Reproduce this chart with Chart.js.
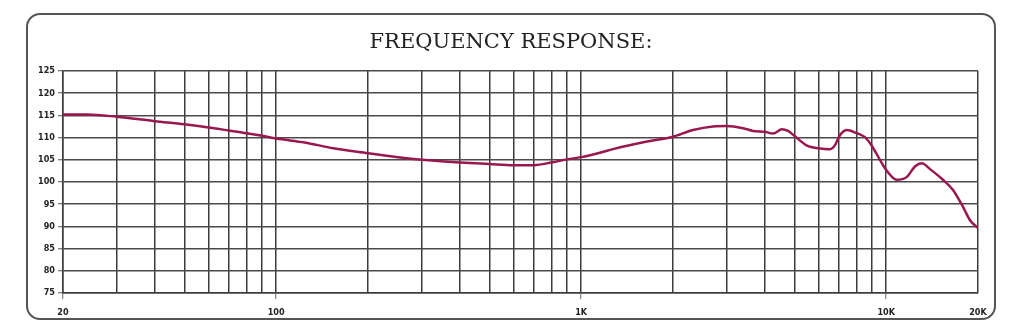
<!DOCTYPE html>
<html>
<head>
<meta charset="utf-8">
<script src="https://cdn.jsdelivr.net/npm/chart.js@4/dist/chart.umd.min.js"></script>
<style>
  html, body { margin: 0; padding: 0; background: #fff; }
  #wrap { position: relative; width: 1024px; height: 335px; }
  canvas { display: block; }
</style>
</head>
<body>
<div id="wrap"><canvas id="c" width="1024" height="335"></canvas></div>
<script>
// ---- data ----
const freqs = [20, 24, 30, 40, 50, 60, 70, 80, 90, 100, 124, 154, 200, 255, 300, 400, 500, 600, 700, 800, 900,
  1000, 1153, 1272, 1644, 2000, 2326, 2706, 3000, 3396, 3660, 4000, 4256, 4554, 4766, 5000, 5498, 6000, 6546,
  6796, 7000, 7420, 8000, 8520, 9000, 9540, 10000, 10820, 11670, 12430, 13080, 13920, 15350, 16560, 17860, 18830, 20000];
const response = [115.2, 115.2, 114.7, 113.7, 113.0, 112.3, 111.6, 111.0, 110.4, 109.8, 108.9, 107.6, 106.5, 105.5, 105.0, 104.4, 104.05, 103.8, 103.8, 104.4, 105.1,
  105.6, 106.6, 107.4, 109.1, 110.2, 111.7, 112.5, 112.6, 112.1, 111.5, 111.3, 110.9, 111.9, 111.5, 110.4, 108.2, 107.6, 107.4,
  108.3, 110.2, 111.7, 111.0, 110.1, 108.0, 105.0, 102.7, 100.5, 101.1, 103.5, 104.2, 102.9, 100.5, 98.2, 94.4, 91.4, 89.6];
const gridFreqs = [20, 30, 40, 50, 60, 70, 80, 90, 100, 200, 300, 400, 500, 600, 700, 800, 900,
  1000, 2000, 3000, 4000, 5000, 6000, 7000, 8000, 9000, 10000, 20000];
const labeledFreqs = [20, 100, 1000, 10000, 20000];
const labeledText = ['20', '100', '1K', '10K', '20K'];
const yMin = 75, yMax = 125, yStep = 5;
const titleText = 'FREQUENCY RESPONSE:';

const points = freqs.map((f, i) => ({ x: f, y: response[i] }));

const frame = {
  id: 'frame',
  beforeDraw(chart) {
    const ctx = chart.ctx;
    const x = 27, y = 14, w = 968, h = 305, r = 13;
    ctx.save();
    ctx.strokeStyle = '#555';
    ctx.lineWidth = 2;
    ctx.beginPath();
    ctx.moveTo(x + r, y);
    ctx.lineTo(x + w - r, y);
    ctx.arcTo(x + w, y, x + w, y + r, r);
    ctx.lineTo(x + w, y + h - r);
    ctx.arcTo(x + w, y + h, x + w - r, y + h, r);
    ctx.lineTo(x + r, y + h);
    ctx.arcTo(x, y + h, x, y + h - r, r);
    ctx.lineTo(x, y + r);
    ctx.arcTo(x, y, x + r, y, r);
    ctx.stroke();
    ctx.restore();
  }
};

const labelFont = { family: "'Liberation Sans Narrow', 'DejaVu Sans Condensed', 'Liberation Sans', sans-serif", size: 9, weight: 'bold' };

new Chart(document.getElementById('c'), {
  type: 'line',
  data: {
    datasets: [{
      data: points,
      borderColor: '#9a1850',
      borderWidth: 2.5,
      pointRadius: 0,
      fill: false,
      cubicInterpolationMode: 'monotone'
    }]
  },
  options: {
    responsive: false,
    animation: false,
    layout: { padding: { top: 29.5, right: 24, bottom: 0, left: 22 } },
    plugins: {
      legend: { display: false },
      tooltip: { enabled: false },
      title: {
        display: true,
        text: titleText,
        color: '#222',
        font: { family: "'DejaVu Serif', 'Liberation Serif', serif", size: 21, weight: 'normal' },
        padding: { top: 0, bottom: 16.3 }
      }
    },
    scales: {
      x: {
        type: 'logarithmic',
        min: 20,
        max: 20000,
        afterBuildTicks(scale) {
          scale.ticks = gridFreqs.map(v => ({ value: v }));
        },
        afterFit(scale) { scale.height = 42; },
        ticks: {
          autoSkip: false,
          maxRotation: 0,
          padding: 8,
          color: '#222',
          font: labelFont,
          callback(value) {
            const i = labeledFreqs.indexOf(value);
            return i >= 0 ? labeledText[i] : '';
          }
        },
        grid: {
          color: '#3c3c3c',
          lineWidth: 1.5,
          tickLength: 6,
          tickWidth: 1,
          tickColor(ctx) {
            const v = ctx.tick && ctx.tick.value;
            return (labeledFreqs.indexOf(v) >= 0 && v !== 20000) ? '#666' : 'rgba(0,0,0,0)';
          }
        },
        border: { display: true, color: '#3c3c3c', width: 1.5 }
      },
      y: {
        min: yMin,
        max: yMax,
        afterFit(scale) { scale.width = 41; },
        ticks: {
          stepSize: yStep,
          padding: 3,
          color: '#222',
          font: labelFont
        },
        grid: {
          color: '#4a4a4a',
          lineWidth: 1.5,
          tickLength: 5,
          tickWidth: 1,
          tickColor: '#555'
        },
        border: { display: true, color: '#3c3c3c', width: 1.5 }
      },
      yRight: {
        position: 'right',
        min: yMin,
        max: yMax,
        afterFit(scale) { scale.width = 22; },
        ticks: { display: false },
        grid: { display: false },
        border: { display: false }
      }
    }
  },
  plugins: [frame]
});
</script>
</body>
</html>
